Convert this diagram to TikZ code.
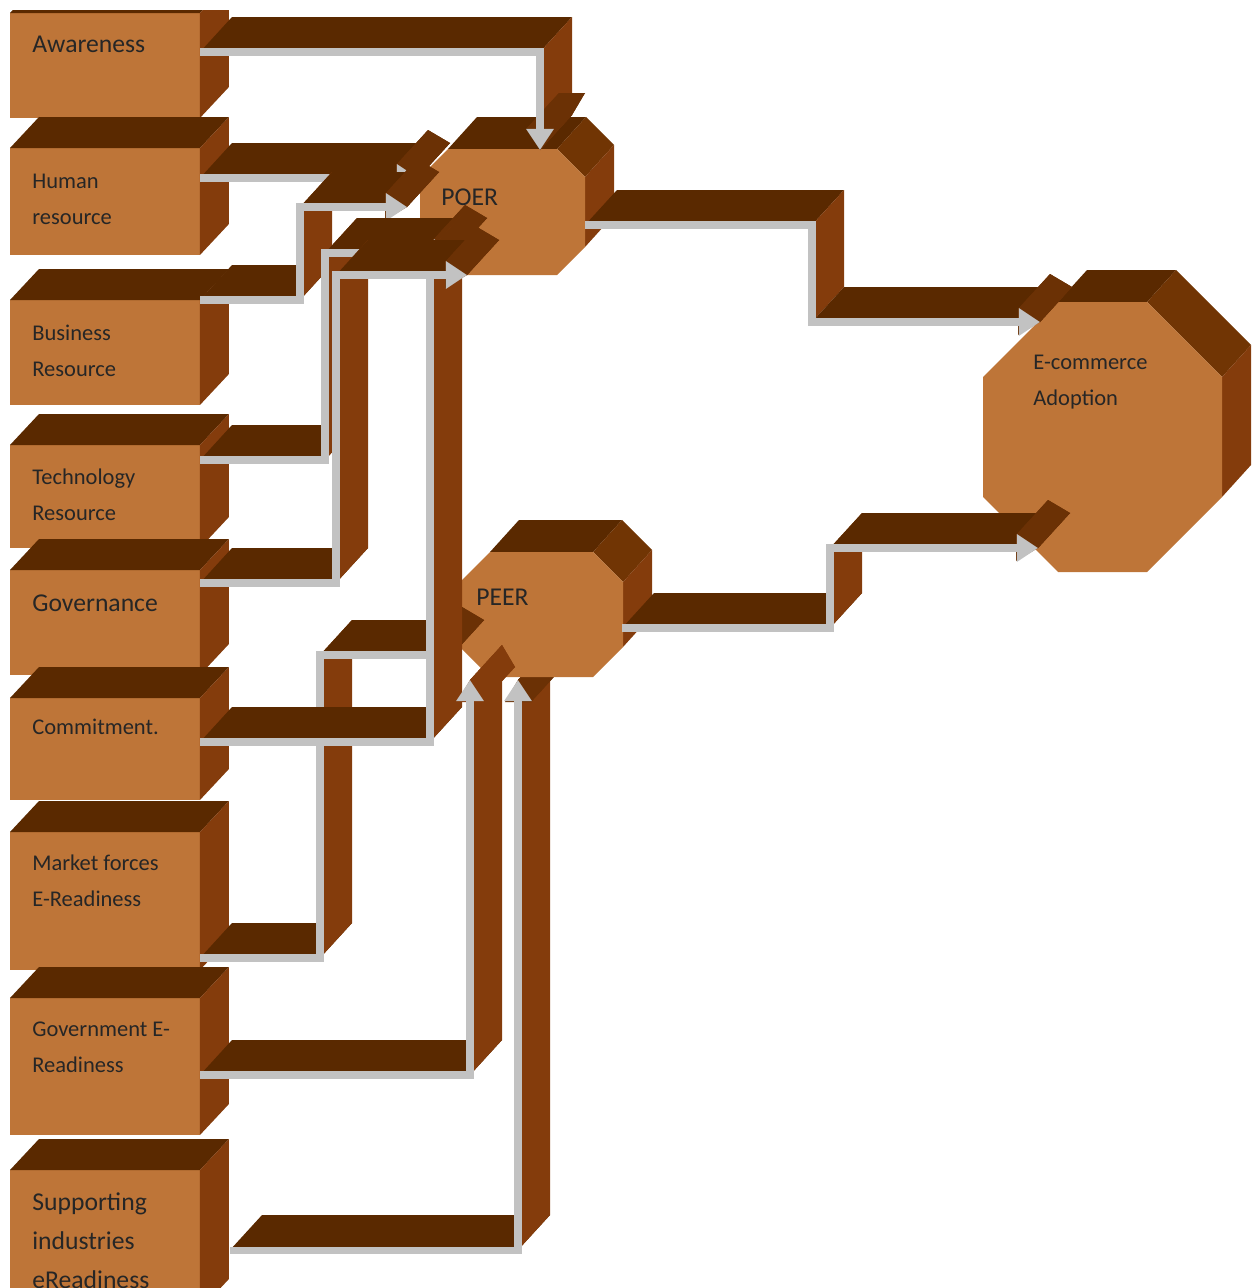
\documentclass[tikz,border=0pt]{standalone}
\usepackage{fontspec}
\setmainfont{Carlito}
\usepackage{tikz}
\usetikzlibrary{calc}
\usetikzlibrary{arrows.meta}

\definecolor{cFront}{HTML}{BE7538}
\definecolor{cTop}{HTML}{5A2900}
\definecolor{cEdge}{HTML}{713504}
\definecolor{cSide}{HTML}{843C0C}
\definecolor{cTip}{HTML}{6B3105}
\definecolor{cLink}{HTML}{C2C2C2}

\newcommand{\smallfont}{\fontsize{12.8}{20.5}\selectfont}
\newcommand{\bigfont}{\fontsize{14.6}{22.2}\selectfont}

% top and side of a box node
\newcommand{\boxfaces}[1]{%
  \fill[fh] (#1.north west) -- (#1.north east) -- ([shift={(29,-31)}]#1.north east) -- ([shift={(29,-31)}]#1.north west) -- cycle;
  \fill[fv] (#1.north east) -- (#1.south east) -- ([shift={(29,-31)}]#1.south east) -- ([shift={(29,-31)}]#1.north east) -- cycle;
}

% octagon: x1, y1, x2, y2, chamfer
\newcommand{\octo}[5]{%
  \fill[fh] (#1+#5,#2) -- (#3-#5,#2) -- ++(29,-32) -- (#1+#5+29,#2-32) -- cycle;
  \fill[fe] (#3-#5,#2) -- (#3,#2+#5) -- ++(29,-32) -- (#3-#5+29,#2-32) -- cycle;
  \fill[fv] (#3,#2+#5) -- (#3,#4-#5) -- ++(29,-32) -- (#3+29,#2+#5-32) -- cycle;
  \fill[frontface] (#1+#5,#2) -- (#3-#5,#2) -- (#3,#2+#5) -- (#3,#4-#5) -- (#3-#5,#4) -- (#1+#5,#4) -- (#1,#4-#5) -- (#1,#2+#5) -- cycle;
}

% extruded connector: [tip face], start, list of kind/point
\newcommand{\ribbon}[3][ft]{%
  \coordinate (rb) at (#2);
  \foreach \kind/\pnt in {#3}{%
    \coordinate (ra) at (rb);
    \coordinate (rb) at (\pnt);
    \fill[f\kind] (ra) -- (rb) -- ([shift={(32,-35)}]rb) -- ([shift={(32,-35)}]ra) -- cycle;
  }
  \coordinate (tb) at ($(rb)!0.44cm!(ra)$);
  \coordinate (t1) at ($(tb)!0.26cm!90:(rb)$);
  \coordinate (t2) at ($(tb)!0.26cm!-90:(rb)$);
  \fill[#1] (t1) -- (rb) -- ([shift={(32,-35)}]rb) -- ([shift={(32,-35)}]t1) -- cycle;
  \fill[#1] (t2) -- (rb) -- ([shift={(32,-35)}]rb) -- ([shift={(32,-35)}]t2) -- cycle;
  \fill[#1] (t1) -- (t2) -- ([shift={(32,-35)}]t2) -- ([shift={(32,-35)}]t1) -- cycle;
  \fill[#1] ([shift={(32,-35)}]t1) -- ([shift={(32,-35)}]t2) -- ([shift={(32,-35)}]rb) -- cycle;
  \draw[link] (#2) \foreach \kind/\pnt in {#3} {-- (\pnt)};
}

\begin{document}
\begin{tikzpicture}
			[
				x = 0.02cm, y = -0.02cm,
				block/.style = {rectangle, fill = cFront, inner sep = 0pt, outer sep = 0pt, minimum width = 3.8cm, anchor = north west},
				lbl/.style = {anchor = west, inner sep = 0pt, align = left, text = black!85},
				fh/.style = {fill = cTop},
				fe/.style = {fill = cEdge},
				fv/.style = {fill = cSide},
				ft/.style = {fill = cTip},
				frontface/.style = {fill = cFront},
				link/.style = {draw = cLink, line width = 4pt, -{Triangle[length = 12pt, width = 15pt]}}
			]
			\useasboundingbox (0,0) rectangle (1251,1288);
			\clip (0,10) rectangle (1251,1288);
			%
			\node (aware) [block, minimum height = 2.1cm] at (10,13) {};
			\boxfaces{aware}
			\node (aware-t) [lbl, font = \bigfont] at (32,44) {Awareness};
			%
			\node (human) [block, minimum height = 2.14cm] at (10,148) {};
			\boxfaces{human}
			\node (human-t) [lbl, font = \smallfont] at (32,199) {Human\\resource};
			%
			\node (biz) [block, minimum height = 2.1cm] at (10,300) {};
			\boxfaces{biz}
			\node (biz-t) [lbl, font = \smallfont] at (32,351) {Business\\Resource};
			%
			\node (tech) [block, minimum height = 2.06cm] at (10,445) {};
			\boxfaces{tech}
			\node (tech-t) [lbl, font = \smallfont] at (32,495) {Technology\\Resource};
			%
			\node (gov) [block, minimum height = 2.1cm] at (10,570) {};
			\boxfaces{gov}
			\node (gov-t) [lbl, font = \bigfont] at (32,603) {Governance};
			%
			\node (commit) [block, minimum height = 2.04cm] at (10,698) {};
			\boxfaces{commit}
			\node (commit-t) [lbl, font = \smallfont] at (32,727) {Commitment.};
			%
			\node (market) [block, minimum height = 2.76cm] at (10,832) {};
			\boxfaces{market}
			\node (market-t) [lbl, font = \smallfont] at (32,881) {Market forces\\E-Readiness};
			%
			\node (govt) [block, minimum height = 2.74cm] at (10,998) {};
			\boxfaces{govt}
			\node (govt-t) [lbl, font = \smallfont] at (32,1047) {Government E-\\Readiness};
			%
			\node (supp) [block, minimum height = 2.8cm] at (10,1170) {};
			\boxfaces{supp}
			\node (supp-t) [lbl, font = \bigfont] at (32,1241) {Supporting\\industries\\eReadiness};
			%
			\coordinate (aw-o) at (200,52);
			\coordinate (aw-1) at (540,52);
			\coordinate (po-t) at (540,150);
			\coordinate (hu-o) at (200,178);
			\coordinate (po-a) at (418,178);
			\coordinate (bi-o) at (200,300);
			\coordinate (bi-1) at (300,300);
			\coordinate (bi-2) at (300,207);
			\coordinate (po-b) at (407,207);
			\coordinate (te-o) at (200,460);
			\coordinate (te-1) at (325,460);
			\coordinate (te-2) at (325,253);
			\coordinate (po-c) at (455,253);
			\coordinate (go-o) at (200,583);
			\coordinate (go-1) at (336,583);
			\coordinate (go-2) at (336,275);
			\coordinate (po-d) at (467,275);
			\coordinate (co-o) at (200,742);
			\coordinate (co-1) at (430,742);
			\coordinate (po-e) at (430,250);
			\coordinate (mk-o) at (200,958);
			\coordinate (mk-1) at (320,958);
			\coordinate (mk-2) at (320,655);
			\coordinate (pe-a) at (452,655);
			\coordinate (gt-o) at (200,1075);
			\coordinate (gt-1) at (470,1075);
			\coordinate (pe-b) at (470,680);
			\coordinate (su-o) at (230,1250);
			\coordinate (su-1) at (518,1250);
			\coordinate (pe-c) at (518,680);
			\coordinate (po-o) at (585,225);
			\coordinate (po-1) at (812,225);
			\coordinate (po-2) at (812,322);
			\coordinate (ec-a) at (1040,322);
			\coordinate (pe-o) at (622,628);
			\coordinate (pe-1) at (830,628);
			\coordinate (pe-2) at (830,548);
			\coordinate (ec-b) at (1038,548);
			%
			\octo{420}{149}{585}{275}{28}
			\node (poer-t) [lbl, font = \bigfont] at (441,197) {POER};
			%
			\ribbon{su-o}{h/su-1,v/pe-c}
			%
			\octo{460}{552}{623}{677}{30}
			\node (peer-t) [lbl, font = \bigfont] at (476,597) {PEER};
			%
			\octo{983}{302}{1222}{572}{75}
			\node (ecom-t) [lbl, font = \smallfont] at (1033,382) {E-commerce\\Adoption};
			%
			\ribbon{aw-o}{h/aw-1,v/po-t}
			\ribbon{hu-o}{h/po-a}
			\ribbon{bi-o}{h/bi-1,v/bi-2,h/po-b}
			\ribbon{te-o}{h/te-1,v/te-2,h/po-c}
			\ribbon{mk-o}{h/mk-1,v/mk-2,h/pe-a}
			\ribbon{co-o}{h/co-1,v/po-e}
			\ribbon{go-o}{h/go-1,v/go-2,h/po-d}
			\ribbon[fv]{gt-o}{h/gt-1,v/pe-b}
			\ribbon{po-o}{h/po-1,v/po-2,h/ec-a}
			\ribbon{pe-o}{h/pe-1,v/pe-2,h/ec-b}
			%
		\end{tikzpicture}
\end{document}
